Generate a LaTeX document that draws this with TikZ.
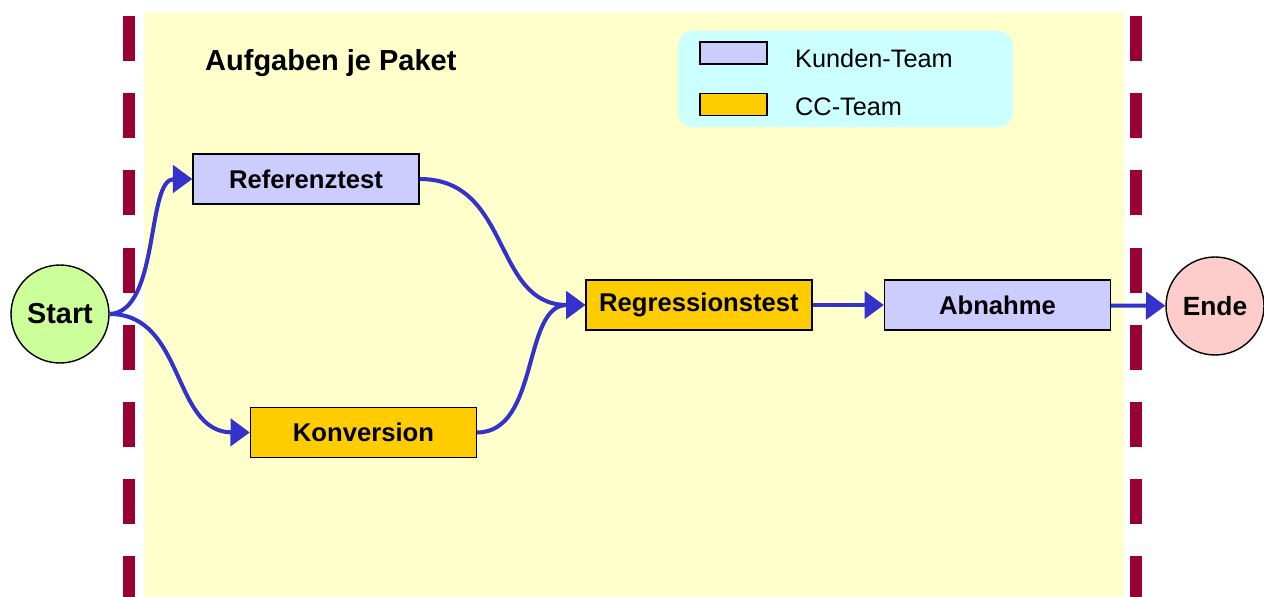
\documentclass[tikz,border=0pt]{standalone}
\usepackage{fontspec}
\setmainfont{Liberation Sans}
\usetikzlibrary{arrows.meta}

\definecolor{paket}{HTML}{FFFFCC}
\definecolor{grenze}{HTML}{990033}
\definecolor{legende}{HTML}{CCFFFF}
\definecolor{kunde}{HTML}{CCCCFF}
\definecolor{cc}{HTML}{FFCC00}
\definecolor{startgruen}{HTML}{CCFF99}
\definecolor{enderot}{HTML}{FFCCCC}
\definecolor{pfeil}{HTML}{3333CC}

\tikzset{
  aufgabe/.style={draw=black, line width=0.8pt, minimum width=4.52cm, minimum height=1cm,
    inner sep=0pt, font=\fontsize{14.6}{16}\selectfont\bfseries},
  punkt/.style={circle, draw=black, line width=0.8pt, minimum size=1.96cm, inner sep=0pt,
    font=\fontsize{15}{17}\selectfont\bfseries},
  fluss/.style={pfeil, line width=2.3pt, -{Triangle[length=11pt,width=15.5pt]}},
  muster/.style={draw=black, line width=0.8pt, minimum width=1.34cm, minimum height=0.44cm, inner sep=0pt},
}

\begin{document}
\begin{tikzpicture}[x=0.02cm,y=-0.02cm]
\useasboundingbox (0,0) rectangle (1264,597);
\fill[paket] (144,12) rectangle (1124,597);
\foreach \y in {16,93,170,248,325,402,479,556} {
  \fill[grenze] (123,\y) rectangle (135,{min(\y+45,597)});
  \fill[grenze] (1130,\y) rectangle (1142,{min(\y+45,597)});
}

% Legende
\fill[legende, rounded corners=0.3cm] (678,31) rectangle (1013,127);
\node[muster, fill=kunde] (lk) at (733.5,53) {};
\node[muster, fill=cc] (lc) at (733.5,104.5) {};
\node[anchor=west, font=\fontsize{14.4}{16}\selectfont] (tk) at (789,58) {Kunden-Team};
\node[anchor=west, font=\fontsize{14.4}{16}\selectfont] (tc) at (789,107) {CC-Team};

\node[anchor=west, font=\fontsize{16.5}{18}\selectfont\bfseries] (titel) at (199,63) {Aufgaben je Paket};

\node[punkt, fill=startgruen, font=\fontsize{16.4}{18}\selectfont\bfseries] (start) at (60,314) {Start};
\node[aufgabe, fill=kunde] (ref) at (306,179) {\raisebox{-1pt}{Referenztest}};
\node[aufgabe, fill=cc] (konv) at (363.5,432.5) {\raisebox{-1pt}{Konversion}};
\node[aufgabe, fill=cc] (reg) at (699,305) {\raisebox{-1pt}{Regressionstest}};
\node[aufgabe, fill=kunde] (abn) at (997.5,305) {\raisebox{-1pt}{Abnahme}};
\node[punkt, fill=enderot] (ende) at (1215,306) {Ende};

\draw[fluss] (start.east) .. controls (160,312) and (146,179) .. (ref.west);
\draw[fluss] (start.east) .. controls (185,314) and (172,432) .. (konv.west);
\draw[fluss] (ref.east) .. controls (512,179) and (492,305) .. (reg.west);
\draw[fluss] (konv.east) .. controls (540,432) and (522,305) .. (reg.west);
\draw[fluss] (reg) -- (abn);
\draw[fluss] (abn) -- (ende);
\end{tikzpicture}
\end{document}
